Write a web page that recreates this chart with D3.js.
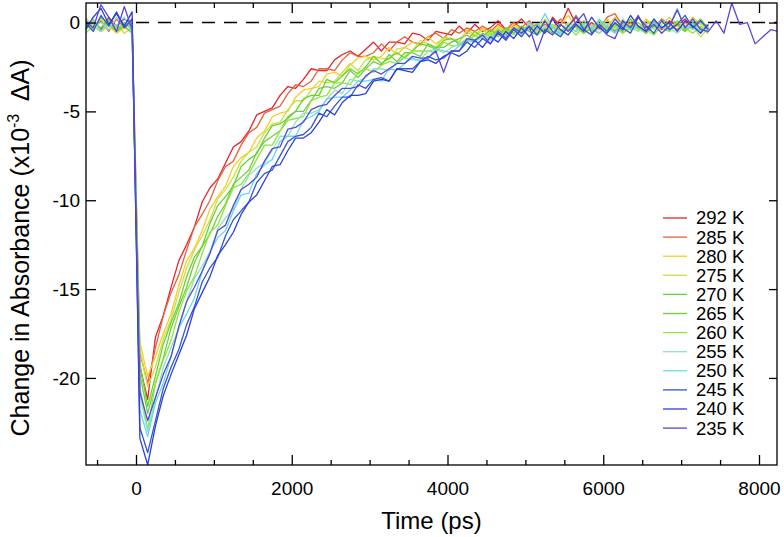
<!DOCTYPE html>
<html>
<head>
<meta charset="utf-8">
<script src="https://cdn.jsdelivr.net/npm/d3@7"></script>
<style>
  body { margin: 0; background: #fff; }
  svg text { font-family: "Liberation Sans", Arial, Helvetica, sans-serif; fill: #000; }
</style>
</head>
<body>
<svg id="chart" width="784" height="537"></svg>
<script>
// time axis (ps), shared by all traces; 235 K runs longer
const time = [-650, -550, -450, -350, -250, -150, -50, 50, 150,
  250, 350, 450, 550, 650, 750, 850, 950, 1050, 1150,
  1250, 1350, 1450, 1550, 1650, 1750, 1850, 1950, 2050, 2150,
  2250, 2350, 2450, 2550, 2650, 2750, 2850, 2950, 3050, 3150,
  3250, 3350, 3450, 3550, 3650, 3750, 3850, 3950, 4050, 4150,
  4250, 4350, 4450, 4550, 4650, 4750, 4850, 4950, 5050, 5150,
  5250, 5350, 5450, 5550, 5650, 5750, 5850, 5950, 6050, 6150,
  6250, 6350, 6450, 6550, 6650, 6750, 6850, 6950, 7050, 7150,
  7250, 7350, 7450, 7550, 7650, 7750, 7850, 7950, 8050, 8150, 8250]

const labels = ['292 K', '285 K', '280 K', '275 K', '270 K', '265 K',
  '260 K', '255 K', '250 K', '245 K', '240 K', '235 K']
const colors = ['#e8232b', '#e8613d', '#f6cd25', '#c9df4a', '#62d626', '#77c944',
  '#8ae83c', '#8ee2c2', '#66d8ef', '#3456c9', '#2a3fe0', '#5a46d8']

const xMajor = [0, 2000, 4000, 6000, 8000]
const xMinor = [-500, 500, 1000, 1500, 2500, 3000, 3500, 4500, 5000, 5500, 6500, 7000, 7500]
const yMajor = [0, -5, -10, -15, -20]

// change in absorbance (x10^-3), one array per temperature
const s292 = [-0.3, 0.1, -0.4, 0.3, -0.2, 0.2, -0.1, -19.4, -21.2,
  -17.7, -16.5, -14.9, -13.4, -12.5, -11.5, -10.1, -9.3, -8.8, -7.9,
  -7.0, -6.7, -6.1, -5.2, -5.0, -4.8, -4.1, -3.6, -3.7, -3.2,
  -2.6, -2.7, -2.7, -2.1, -1.8, -1.6, -1.9, -1.5, -1.1, -1.6,
  -1.1, -1.1, -1.2, -0.6, -0.7, -1.0, -0.5, -0.6, -0.7, -0.2,
  -0.6, -0.1, -0.5, -0.3, 0.1, -0.4, -0.2, 0.2, -0.3, -0.1,
  -0.5, 0.3, -0.2, 0.8, -0.1, -0.4, 0.0, -0.3, 0.2, -0.5,
  0.1, -0.2, 0.3, -0.3, 0.0, -0.4, 0.1, -0.2, 0.2, -0.3,
  0.0, -0.2]
const s285 = [0.2, -0.3, 0.1, -0.5, 0.2, -0.3, 0.0, -18.6, -20.3,
  -18.3, -16.5, -15.2, -14.2, -12.8, -11.5, -10.8, -10.0, -8.9, -8.1,
  -7.8, -6.9, -6.2, -5.9, -5.1, -4.9, -4.7, -4.0, -3.5, -3.6,
  -3.3, -2.6, -2.6, -2.7, -2.1, -1.7, -1.9, -1.9, -1.7, -1.2,
  -1.6, -1.1, -0.8, -1.1, -1.2, -0.8, -0.6, -0.9, -0.4, -0.6,
  -0.3, -0.5, -0.2, -0.5, -0.1, -0.4, 0.0, -0.3, 0.1, -0.4,
  -0.1, -0.3, 0.2, -0.2, 0.4, -0.3, -0.1, -0.4, 0.3, 0.5,
  -0.2, 0.0, -0.4, 0.1, -0.3, 0.2, -0.1, -0.4, 0.0, -0.2,
  0.1, -0.3]
const s280 = [-0.2, 0.1, -0.5, -0.2, -0.6, -0.3, -0.5, -18.0, -19.9,
  -18.8, -17.5, -16.4, -14.8, -13.4, -12.7, -11.7, -10.5, -9.8, -9.2,
  -8.1, -7.6, -7.3, -6.5, -6.1, -5.3, -5.1, -5.0, -4.2, -3.8,
  -3.7, -3.6, -2.9, -2.8, -3.0, -2.4, -2.0, -1.9, -2.1, -1.9,
  -1.4, -1.8, -1.4, -1.1, -1.3, -0.8, -1.2, -0.9, -0.9, -1.1,
  -0.4, -0.7, -0.3, -0.6, -0.2, -0.5, -0.1, -0.4, -0.2, -0.5,
  0.2, -0.3, -0.1, 0.4, -0.3, -0.1, -0.5, 0.1, -0.2, 0.3,
  -0.3, -0.1, -0.4, 0.2, -0.2, 0.1, -0.3, 0.0, -0.2, 0.3,
  -0.1, -0.3]
const s275 = [0.3, -0.2, 0.2, -0.4, -0.1, -0.6, -0.3, -18.4, -20.5,
  -19.4, -17.8, -16.7, -15.2, -13.8, -12.8, -12.0, -11.1, -9.9, -9.4,
  -8.7, -7.8, -7.3, -7.0, -6.2, -5.7, -5.6, -4.9, -4.4, -4.4,
  -3.8, -3.3, -3.4, -3.3, -2.8, -2.3, -2.7, -2.1, -1.9, -2.0,
  -2.1, -1.5, -1.4, -1.6, -1.0, -1.2, -1.4, -0.8, -0.9, -1.1,
  -0.5, -0.8, -0.4, -0.7, -0.3, -0.6, -0.2, -0.5, -0.1, -0.4,
  -0.6, -0.2, -0.5, 0.0, -0.3, -0.6, -0.1, -0.4, 0.2, -0.3,
  -0.6, -0.1, -0.4, 0.1, -0.3, -0.1, 0.3, -0.2, -0.5, -0.2,
  -0.8, -0.3]
const s270 = [-0.4, 0.0, -0.3, 0.2, -0.5, -0.2, -0.6, -19.2, -21.6,
  -19.9, -18.1, -16.9, -15.8, -14.3, -13.2, -12.6, -11.3, -10.3, -9.8,
  -9.2, -8.1, -7.7, -7.4, -6.5, -5.8, -5.7, -5.4, -5.0, -4.3,
  -4.1, -4.1, -3.2, -3.4, -3.0, -2.6, -2.9, -2.5, -1.9, -2.3,
  -2.0, -1.7, -2.0, -1.6, -1.2, -1.3, -1.5, -1.0, -0.9, -1.2,
  -1.0, -0.5, -0.8, -0.4, -0.7, -0.3, -0.6, -0.2, -0.5, -0.7,
  -0.3, -0.6, -0.1, -0.4, -0.2, -0.6, -0.3, 0.1, -0.4, -0.1,
  -0.5, 0.2, -0.3, -0.6, -0.2, 0.1, -0.4, -0.1, -0.5, 0.0,
  -0.3, -0.6]
const s265 = [0.1, -0.4, 0.3, -0.1, -0.5, 0.0, -0.4, -19.8, -22.0,
  -20.3, -18.9, -17.2, -16.0, -14.9, -13.5, -12.6, -11.9, -10.9, -10.2,
  -9.1, -8.7, -8.3, -7.3, -6.7, -6.4, -6.1, -5.3, -5.0, -5.0,
  -4.4, -3.7, -3.6, -3.7, -3.4, -2.7, -3.1, -2.6, -2.2, -2.4,
  -1.8, -2.2, -1.7, -1.7, -1.9, -1.2, -1.4, -1.4, -1.1, -0.9,
  -0.7, -1.0, -0.6, -0.8, -0.4, -0.7, -0.3, -0.6, -0.4, -0.1,
  -0.5, -0.3, -0.7, -0.2, -0.5, 0.1, -0.4, -0.6, -0.2, -0.5,
  0.0, -0.4, -0.2, -0.6, 0.1, -0.3, -0.5, -0.1, -0.4, -0.2,
  0.2, -0.4]
const s260 = [-0.6, -0.2, -0.5, 0.1, -0.3, -0.1, -0.2, -20.5, -22.9,
  -20.3, -19.0, -17.9, -16.3, -15.1, -14.3, -13.0, -11.8, -11.4, -10.3,
  -9.3, -9.1, -8.5, -7.7, -6.9, -6.9, -6.1, -5.5, -5.4, -5.3,
  -4.4, -4.2, -4.1, -3.4, -3.4, -3.5, -2.8, -2.6, -2.8, -2.4,
  -2.2, -2.3, -1.9, -1.6, -1.6, -1.6, -1.7, -1.1, -1.3, -1.3,
  -1.1, -0.7, -0.9, -0.6, -0.8, -0.4, -0.7, -0.5, -0.2, -0.6,
  -0.4, -0.1, -0.5, -0.3, -0.7, -0.2, -0.5, 0.1, -0.4, -0.2,
  -0.6, -0.3, 0.0, -0.4, -0.7, -0.2, -0.5, 0.1, -0.3, -0.6,
  -0.2, -0.4]
const s255 = [0.2, -0.3, 0.0, -0.4, 0.3, -0.2, 0.1, -21.0, -23.0,
  -21.2, -19.4, -18.3, -17.2, -15.7, -14.4, -13.7, -12.9, -11.6, -11.0,
  -10.5, -9.4, -8.6, -8.2, -7.9, -7.2, -6.4, -6.4, -5.6, -5.1,
  -5.1, -4.9, -4.3, -3.8, -4.0, -3.2, -3.3, -3.1, -2.6, -2.6,
  -2.7, -2.3, -2.0, -2.1, -2.1, -1.6, -1.5, -1.7, -1.4, -1.2,
  -0.9, -1.1, -0.8, -1.0, -0.6, -0.8, -0.4, -0.7, -0.3, -0.6,
  -0.2, -0.5, -0.7, -0.3, 0.0, -0.4, -0.2, -0.6, -0.1, -0.4,
  0.2, -0.3, -0.5, -0.1, -0.4, 0.1, -0.3, -0.6, -0.2, -0.4,
  0.0, -0.3]
const s250 = [-0.3, 0.2, -0.5, 0.0, -0.2, 0.3, -0.6, -21.8, -23.3,
  -21.4, -20.3, -18.8, -17.2, -16.4, -15.5, -14.0, -12.9, -12.1, -11.7,
  -10.6, -9.7, -9.6, -8.5, -8.0, -7.7, -6.7, -6.4, -6.4, -5.5,
  -5.3, -5.0, -4.3, -4.2, -4.2, -3.8, -3.3, -3.3, -3.2, -3.3,
  -2.6, -2.7, -2.3, -2.0, -2.2, -2.0, -1.5, -1.6, -1.7, -1.3,
  -1.0, -1.1, -0.7, -0.9, -0.5, -0.8, -0.3, -0.6, 0.0, -0.4,
  0.5, -0.3, -0.6, -0.2, -0.5, -0.1, -0.4, 0.2, -0.3, -0.6,
  -0.1, -0.4, -0.2, -0.5, 0.0, -0.3, -0.2, 0.8, -0.3, -0.1,
  -0.5, -0.2]
const s245 = [0.0, -0.5, 0.4, -0.2, 0.6, -0.3, 0.2, -22.8, -24.2,
  -22.4, -20.6, -19.4, -18.4, -17.0, -16.0, -14.6, -13.8, -13.2, -12.0,
  -11.1, -10.6, -10.1, -9.0, -8.5, -8.3, -7.5, -6.7, -6.4, -6.3,
  -5.9, -5.1, -5.3, -4.7, -4.2, -4.2, -3.5, -3.7, -3.2, -3.1,
  -3.3, -2.6, -2.6, -2.6, -2.2, -1.9, -2.1, -2.0, -1.6, -1.6,
  -1.1, -1.4, -0.9, -1.2, -0.6, -1.0, -0.4, -0.8, -0.2, -0.7,
  0.1, -0.5, -0.8, -0.2, 0.3, -0.4, -0.7, -0.1, -0.5, 0.2,
  -0.3, -0.6, 0.3, -0.2, -0.6, 0.1, -0.4, -0.1, 0.4, -0.3,
  0.1, -0.4]
const s240 = [-0.4, 0.3, 0.8, -0.1, 0.5, -0.2, 0.6, -23.4, -24.9,
  -22.7, -21.0, -19.8, -18.7, -17.6, -16.1, -15.2, -14.3, -13.1, -12.5,
  -11.8, -10.8, -10.1, -9.7, -8.9, -8.1, -8.0, -7.2, -6.5, -6.5,
  -6.2, -5.6, -4.9, -5.2, -4.5, -4.1, -4.1, -4.0, -3.3, -3.2,
  -3.3, -2.6, -2.7, -2.8, -2.2, -2.1, -2.3, -1.9, -1.7, -1.9,
  -1.6, -1.0, -1.4, -0.8, -1.1, -0.5, -0.9, -0.3, -0.8, -0.2,
  -0.6, 0.2, -0.4, -0.7, -0.1, -0.5, 0.3, -0.3, -0.6, 0.0,
  -0.4, 0.4, -0.2, -0.5, 0.2, -0.3, 0.0, -0.5, 0.1, -0.2,
  -0.6, -0.1]
const s235 = [0.1, -0.3, 1.0, 0.3, -0.5, 0.9, -0.4, -20.8, -22.4,
  -21.1, -19.8, -18.8, -17.1, -15.7, -14.9, -14.0, -13.0, -11.7, -11.4,
  -10.3, -9.4, -9.1, -8.7, -7.8, -7.1, -7.0, -6.0, -5.9, -5.6,
  -4.9, -4.7, -4.6, -4.1, -3.7, -3.7, -3.6, -3.0, -2.7, -2.9,
  -2.6, -2.3, -2.3, -1.9, -2.0, -2.0, -1.6, -2.8, -1.6, -1.6,
  -0.9, -1.0, -0.7, -1.2, -0.5, -0.9, -0.3, -0.6, -0.2, -1.6,
  -0.4, -0.7, -0.1, -0.5, 0.0, 0.5, -0.6, -0.2, -0.7, -0.9,
  0.1, -0.3, 0.4, -0.5, -0.1, -0.6, -0.2, 0.7, -0.3, 0.2,
  -0.4, -0.5, 0.1, -0.6, 1.1, -0.1, 0.0, -1.2, -0.8, -0.4, -0.5]

const traces = [s292, s285, s280, s275, s270, s265, s260, s255, s250, s245, s240, s235]

const svg = d3.select('#chart')
const plot = {left: 86, right: 777, top: 3, bottom: 465}

const x = d3.scaleLinear().domain([-642, 8231]).range([plot.left, plot.right])
const y = d3.scaleLinear().domain([-24.9, 1.1]).range([plot.bottom, plot.top])

svg.append('defs').append('clipPath').attr('id', 'clip')
    .append('rect')
    .attr('x', plot.left).attr('y', plot.top)
    .attr('width', plot.right - plot.left).attr('height', plot.bottom - plot.top)

// zero line
svg.append('line')
    .attr('x1', x(0)).attr('x2', plot.right)
    .attr('y1', y(0)).attr('y2', y(0))
    .attr('stroke', '#000')
    .attr('stroke-width', 1.4)
    .attr('stroke-dasharray', '13,9')

const line = d3.line()
    .x((d, i) => x(time[i]))
    .y(d => y(d))

const traceG = svg.append('g').attr('clip-path', 'url(#clip)')
traces.forEach((vals, k) => {
    traceG.append('path')
        .datum(vals)
        .attr('d', line)
        .attr('fill', 'none')
        .attr('stroke', colors[k])
        .attr('stroke-width', 1.3)
        .attr('stroke-linejoin', 'round')
})

// axes, ticks pointing inward
const fmt = d => String(d)
const styleAxis = g => {
    g.select('.domain').remove()
    g.selectAll('line').attr('stroke', '#000').attr('stroke-width', 1.3)
    g.selectAll('text').attr('font-size', 19).attr('fill', '#000')
        .style('font-family', '"Liberation Sans", Arial, sans-serif')
}

svg.append('g')
    .attr('transform', `translate(0,${plot.bottom})`)
    .call(d3.axisBottom(x).tickValues(xMajor).tickSize(-10).tickPadding(17).tickFormat(fmt))
    .call(styleAxis)
svg.append('g')
    .attr('transform', `translate(0,${plot.bottom})`)
    .call(d3.axisBottom(x).tickValues(xMinor).tickSize(-5).tickFormat(''))
    .call(styleAxis)
svg.append('g')
    .attr('transform', `translate(0,${plot.top})`)
    .call(d3.axisTop(x).tickValues(xMajor).tickSize(-10).tickFormat(''))
    .call(styleAxis)
svg.append('g')
    .attr('transform', `translate(0,${plot.top})`)
    .call(d3.axisTop(x).tickValues(xMinor).tickSize(-5).tickFormat(''))
    .call(styleAxis)
svg.append('g')
    .attr('transform', `translate(${plot.left},0)`)
    .call(d3.axisLeft(y).tickValues(yMajor).tickSize(-10).tickPadding(6).tickFormat(fmt))
    .call(styleAxis)
svg.append('g')
    .attr('transform', `translate(${plot.right},0)`)
    .call(d3.axisRight(y).tickValues(yMajor).tickSize(-8).tickFormat(''))
    .call(styleAxis)

svg.append('rect')
    .attr('x', plot.left).attr('y', plot.top)
    .attr('width', plot.right - plot.left).attr('height', plot.bottom - plot.top)
    .attr('fill', 'none').attr('stroke', '#000').attr('stroke-width', 1.3)

// axis titles
svg.append('text')
    .attr('x', (plot.left + plot.right) / 2).attr('y', 529)
    .attr('text-anchor', 'middle')
    .attr('font-size', 24)
    .text('Time (ps)')

const yt = svg.append('text')
    .attr('transform', 'translate(29,248) rotate(-90)')
    .attr('text-anchor', 'middle')
    .attr('font-size', 25)
yt.append('tspan').text('Change in Absorbance (x10')
yt.append('tspan').attr('dy', -10).attr('font-size', 16).text('-3')
yt.append('tspan').attr('dy', 10).text('\u2002\u0394A)')

// legend
const lg = svg.append('g')
labels.forEach((lab, i) => {
    const ly = 218 + i * 19.1
    lg.append('line')
        .attr('x1', 663).attr('x2', 687)
        .attr('y1', ly).attr('y2', ly)
        .attr('stroke', colors[i]).attr('stroke-width', 1.3)
    lg.append('text')
        .attr('x', 696).attr('y', ly)
        .attr('dy', '0.35em')
        .attr('font-size', 18.5)
        .text(lab)
})
</script>
</body>
</html>
